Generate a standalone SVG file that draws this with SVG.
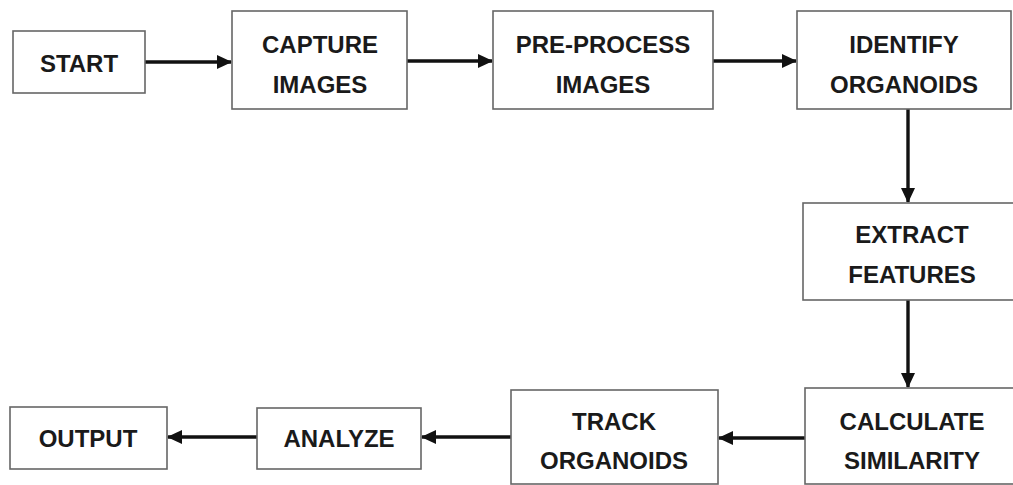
<svg xmlns="http://www.w3.org/2000/svg" width="1013" height="485" viewBox="0 0 1013 485">
<style>
.box{fill:#fff;stroke:#666;stroke-width:1.6}
.t{font-family:"Liberation Sans",Arial,sans-serif;font-weight:bold;font-size:24px;fill:#1a1a1a;text-anchor:middle}
.c{stroke:#111;stroke-width:3.4;fill:none;marker-end:url(#ah)}
</style>
<defs>
<marker id="ah" markerUnits="userSpaceOnUse" markerWidth="16" markerHeight="16" refX="14" refY="8" orient="auto">
<path d="M0,1 L15,8 L0,15 Z" fill="#111"/>
</marker>
</defs>
<rect width="1013" height="485" fill="#fff"/>
<g id="connectors">
<line class="c" x1="145" y1="62" x2="231" y2="62"/>
<line class="c" x1="407" y1="61" x2="492" y2="61"/>
<line class="c" x1="713" y1="61" x2="796" y2="61"/>
<line class="c" x1="908" y1="109" x2="908" y2="202"/>
<line class="c" x1="908" y1="300" x2="908" y2="387"/>
<line class="c" x1="805" y1="438" x2="719" y2="438"/>
<line class="c" x1="511" y1="437" x2="422" y2="437"/>
<line class="c" x1="257" y1="437" x2="168" y2="437"/>
</g>
<g id="start"><rect class="box" x="13" y="31" width="132" height="62"/><text class="t" x="79" y="72">START</text></g>
<g id="capture"><rect class="box" x="232" y="11" width="175" height="98"/><text class="t" x="320" y="53">CAPTURE</text><text class="t" x="320" y="93">IMAGES</text></g>
<g id="preprocess"><rect class="box" x="493" y="11" width="220" height="98"/><text class="t" x="603" y="53">PRE-PROCESS</text><text class="t" x="603" y="93">IMAGES</text></g>
<g id="identify"><rect class="box" x="797" y="11" width="214" height="98"/><text class="t" x="904" y="53">IDENTIFY</text><text class="t" x="904" y="93">ORGANOIDS</text></g>
<g id="extract"><rect class="box" x="803" y="203" width="220" height="97"/><text class="t" x="912" y="243">EXTRACT</text><text class="t" x="912" y="283">FEATURES</text></g>
<g id="calculate"><rect class="box" x="805" y="388" width="220" height="96"/><text class="t" x="912" y="430">CALCULATE</text><text class="t" x="912" y="469">SIMILARITY</text></g>
<g id="track"><rect class="box" x="511" y="390" width="207" height="94"/><text class="t" x="614" y="430">TRACK</text><text class="t" x="614" y="469">ORGANOIDS</text></g>
<g id="analyze"><rect class="box" x="257" y="408" width="164" height="61"/><text class="t" x="339" y="447">ANALYZE</text></g>
<g id="output"><rect class="box" x="10" y="407" width="157" height="62"/><text class="t" x="88" y="447">OUTPUT</text></g>
</svg>
